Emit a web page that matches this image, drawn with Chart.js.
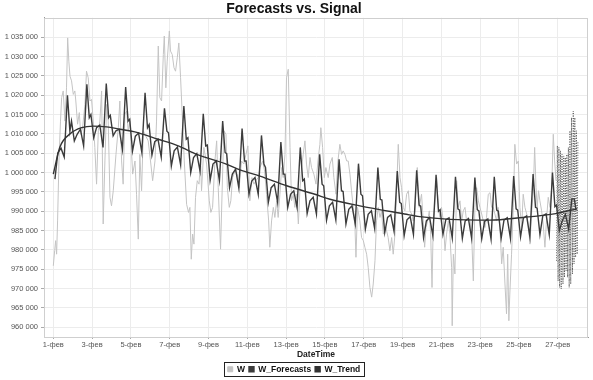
<!DOCTYPE html>
<html>
<head>
<meta charset="utf-8">
<script src="https://cdn.jsdelivr.net/npm/chart.js@4"></script>
<style>
  html, body { margin: 0; padding: 0; background: #fff; }
</style>
</head>
<body>
<canvas id="myChart" width="593" height="380"></canvas>
<script>
// x values are days since 1-фев 00:00
var tickDays = [0, 2, 4, 6, 8, 10, 12, 14, 16, 18, 20, 22, 24, 26];
var tickLabels = ["1-фев", "3-фев", "5-фев", "7-фев", "9-фев", "11-фев", "13-фев",
                  "15-фев", "17-фев", "19-фев", "21-фев", "23-фев", "25-фев", "27-фев"];
var yTicks = [960000, 965000, 970000, 975000, 980000, 985000, 990000, 995000,
              1000000, 1005000, 1010000, 1015000, 1020000, 1025000, 1030000, 1035000];

// W (signal)
var wDays = [0.00,0.07,0.12,0.17,0.22,0.29,0.37,0.43,0.51,0.60,0.68,0.74,0.80,0.86,0.94,1.03,1.11,1.16,1.25,1.34,
  1.41,1.51,1.63,1.71,1.80,1.89,1.97,2.06,2.14,2.23,2.32,2.40,2.49,2.57,2.66,2.75,2.83,2.92,3.00,3.09,
  3.23,3.35,3.43,3.52,3.60,3.69,3.78,3.86,3.95,4.03,
  4.09,4.21,4.29,4.38,4.46,4.55,4.64,4.72,4.89,5.01,5.12,5.24,5.32,5.41,5.49,5.58,5.67,5.72,5.80,5.87,
  5.98,6.04,6.13,6.22,6.30,6.39,6.47,6.56,6.66,6.75,6.87,6.97,7.04,7.11,7.18,7.25,7.33,7.42,7.51,7.59,
  7.64,7.76,7.90,8.04,8.12,8.21,8.33,8.42,8.50,8.62,8.73,
  8.79,8.90,8.97,9.07,9.15,9.24,9.36,9.48,9.58,9.70,9.82,9.93,10.03,10.13,10.24,10.34,10.44,10.56,10.65,10.79,
  10.89,10.99,11.10,11.16,11.25,11.34,11.42,11.51,11.59,11.68,11.77,11.85,11.94,12.02,12.11,12.20,12.28,12.37,12.45,12.54,
  12.63,12.71,12.80,12.88,12.97,13.05,13.14,13.23,13.31,
  13.43,13.54,13.64,13.74,13.79,13.88,13.97,14.05,14.17,14.26,14.38,14.46,14.57,14.67,14.77,14.86,14.94,15.03,15.12,15.20,
  15.29,15.37,15.46,15.55,15.60,15.68,15.80,15.89,15.98,16.06,16.15,16.23,16.32,16.41,16.49,16.58,16.66,16.75,16.84,16.92,
  17.01,17.14,17.26,17.35,17.44,17.52,17.61,17.69,17.78,17.87,17.95,18.04,
  18.12,18.21,18.30,18.38,18.47,18.55,18.64,18.76,18.86,18.98,19.07,19.14,19.21,19.29,19.38,19.45,19.52,19.58,19.67,19.76,
  19.84,19.93,20.01,20.10,20.19,20.27,20.36,20.44,20.53,20.56,20.62,20.70,20.79,20.87,20.96,21.05,21.13,21.22,21.30,21.39,
  21.48,21.56,21.65,21.73,21.82,21.91,21.99,22.08,22.16,22.25,22.33,22.42,22.51,22.59,22.68,
  22.76,22.85,22.93,23.02,23.11,23.19,23.28,23.36,23.42,23.48,23.53,23.62,23.71,23.79,23.88,23.97,24.05,24.14,24.22,24.31,
  24.40,24.48,24.57,24.65,24.74,24.81,24.88,24.94,25.01,25.08,25.17,25.25,25.34,25.43,25.51,25.60,25.69,25.77,25.84,25.91];
var wValues = [975900,979800,982400,978900,987500,1003000,1013300,1019400,1021100,1013300,1021900,1034800,1028800,1024900,1023700,1020200,1021100,1018500,1012500,1015500,
  1009900,1011600,1017600,1026200,1024500,1018500,1018900,1013300,1006500,997000,1010800,1013300,1021100,986700,1003000,1017600,1013300,993600,991400,995300,
  1004700,1011600,1018500,1003000,997000,1015100,1015900,1010800,1013300,1005600,
  999600,1003000,994400,982800,1004700,995300,1010800,1009900,1008200,1003000,997900,1003000,1013300,1032700,1019400,1018500,1030500,1035300,1021900,1028800,
  1036600,1031400,1030500,1027100,1026200,1029700,1033500,1024500,1013300,1003000,991800,989700,991000,977600,984100,981500,993600,997900,997000,1003000,
  995300,1006500,1002200,992700,989700,991000,1003000,1008200,996100,980200,1000400,
  1010800,1009900,996100,991000,992700,998700,1000400,999600,996100,1003000,1002200,1004700,1006900,992700,998700,997000,997900,998700,1001300,1003000,
  1000400,994400,987500,980700,987500,991000,988400,992700,988400,994400,1001300,998700,1004700,1024500,1026700,1006500,992700,994400,991000,994400,
  986700,995300,1001300,1004700,1008200,1002200,998700,1003900,1001300,
  999600,997000,1003000,1007300,1011600,1006500,998700,1001300,998700,1002200,1003900,998700,994400,1003000,1007300,1004700,1005600,1004700,1003000,1003000,
  999600,995300,991000,985800,978100,991000,987500,983200,982400,980700,978900,975500,970300,967800,971200,977200,987500,991000,988400,990100,
  984100,985800,983200,979800,983200,978900,984100,994400,1007300,998700,996100,991000,
  990100,994400,995300,990100,989300,987500,990100,1001300,991000,994400,987500,980700,985800,987500,990100,984100,970300,985800,992700,998700,
  991000,988400,991000,987500,979800,984100,987500,984100,975500,960400,978900,973800,997900,991000,992700,987500,990100,991000,987500,988400,
  987500,984100,972000,991000,996100,992700,991000,989300,987500,985800,988400,994400,994800,991000,991000,
  989300,987500,991000,985800,976400,980700,971200,963500,978900,961700,968600,978900,991000,1007300,1002200,1003000,991000,985800,994400,991000,
  989300,986700,981500,989300,995300,1006500,996100,991000,995300,992700,990100,986700,980700,988400,993600,991000,996100,1009900,1003000,997900];

// W_Forecasts: one row per day, values at these hours of the day
var fcHours = [2, 5.5, 9.5, 13.5, 17.5, 20.5, 22.5];
var fcValues = [
  [998300, 1005000, 1006300, 1004000, 1020000, 1010700, 1013300],
  [1008200, 1009900, 1011200, 1006900, 1022800, 1014200, 1015000],
  [1009000, 1011600, 1012300, 1006500, 1023000, 1014200, 1014800],
  [1009500, 1010800, 1011200, 1006000, 1022100, 1013300, 1013800],
  [1005600, 1009400, 1010200, 1005200, 1020600, 1011600, 1012400],
  [1004500, 1008000, 1008600, 1004000, 1016600, 1010700, 1010300],
  [1001700, 1005600, 1006600, 1002000, 1017200, 1008600, 1009000],
  [1000000, 1003900, 1004900, 1000400, 1015200, 1006900, 1007100],
  [998000, 1002200, 1003000, 998000, 1013300, 1005200, 1004900],
  [996100, 999600, 1000900, 996000, 1011400, 1003000, 1003000],
  [994400, 997800, 998700, 994400, 1009600, 1002200, 1001300],
  [992300, 996100, 997000, 992300, 1007900, 999600, 999600],
  [991000, 994400, 995300, 991000, 1006500, 997900, 998300],
  [989400, 992700, 993600, 989300, 1004700, 997000, 996600],
  [987700, 991400, 992300, 987800, 1003400, 995300, 995100],
  [986700, 990500, 991400, 986800, 1002300, 994400, 994000],
  [985400, 989200, 990100, 985600, 1001300, 993100, 992900],
  [984500, 988400, 989100, 984800, 1000400, 992300, 992000],
  [983700, 987800, 988600, 984000, 1000600, 991600, 991300],
  [983200, 987500, 988400, 983700, 999400, 990000, 990400],
  [984000, 987800, 988300, 983100, 998900, 990600, 990300],
  [983000, 987500, 988100, 983000, 998700, 990400, 990100],
  [982900, 987400, 988000, 982800, 998900, 990300, 990000],
  [983000, 987700, 988300, 983000, 999100, 990600, 990300],
  [983400, 988200, 988800, 983500, 999600, 991000, 990800],
  [984000, 988800, 989300, 984000, 1000000, 991200, 991600],
  [985000, 987500, 989200, 985400, 993200, 993200, 990500]
];

// forecast horizon bounds (dotted hatch)
var bandDays = [25.94, 26.02, 26.10, 26.18, 26.27, 26.35, 26.43, 26.51, 26.59, 26.67, 26.76, 26.84, 26.92, 27.00];
var bandUpper = [1006900, 1006500, 1005600, 1004700, 1004300, 1003900, 1004700, 1006500, 1010800, 1014200, 1015900, 1014200, 1010800, 1008200];
var bandLower = [977200, 972000, 970300, 969900, 971200, 972900, 974600, 972900, 970300, 971200, 973800, 976400, 978100, 978900];

// W_Trend
var trendDays = [0, 0.34, 0.86, 1.46, 2.06, 2.75, 3.43, 4.2, 5.4, 6.44, 7.39, 8.85, 9.62, 10.65, 12.03,
                 13.48, 14.26, 15.8, 18.1, 18.89, 20.44, 22.5, 24.2, 25.9, 26.7, 27.0];
var trendValues = [999600, 1006600, 1010000, 1011600, 1012000, 1011800, 1011200, 1010500, 1008600, 1006900, 1004700, 1002300, 1000700, 999100, 996600,
                   994400, 993100, 991400, 989300, 988600, 987900, 987700, 988400, 989400, 990300, 990600];

var xMin = -0.48, xMax = 27.56;
var yMin = 957500, yMax = 1040000;

function pts(xs, ys) {
    return xs.map(function (x, i) { return { x: x, y: ys[i] }; });
}

var fcPoints = [];
fcValues.forEach(function (row, d) {
    row.forEach(function (v, j) { fcPoints.push({ x: d + fcHours[j] / 24, y: v }); });
});

var bandPoints = [];
bandDays.forEach(function (d, i) {
    bandPoints.push({ x: d, y: bandLower[i] });
    bandPoints.push({ x: d + 0.04, y: bandUpper[i] });
});

function fmt(v) {
    return String(v).replace(/\B(?=(\d{3})+(?!\d))/g, ' ');
}

var frame = {
    id: 'frame',
    beforeDatasetsDraw: function (chart) {
        var a = chart.chartArea, ctx = chart.ctx;
        ctx.save();
        ctx.strokeStyle = '#cfcfcf';
        ctx.lineWidth = 1;
        ctx.strokeRect(Math.round(a.left) + 0.5, Math.round(a.top) + 0.5, Math.round(a.right - a.left) - 1, Math.round(a.bottom - a.top));
        ctx.restore();
    },
    afterDraw: function (chart) {
        var hb = chart.legend.legendHitBoxes;
        if (!hb || !hb.length) return;
        var l = hb[0].left, last = hb[hb.length - 1];
        var r = last.left + last.width, t = hb[0].top, b = hb[0].top + hb[0].height;
        var ctx = chart.ctx;
        ctx.save();
        ctx.strokeStyle = '#222';
        ctx.lineWidth = 1;
        ctx.strokeRect(Math.round(l - 4) + 0.5, Math.round(t - 3) + 0.5, Math.round(r - l + 7), Math.round(b - t + 5));
        ctx.restore();
    }
};

Chart.defaults.font.family = "'Liberation Sans', Arial, sans-serif";

var ctx = document.getElementById('myChart').getContext('2d');
var myChart = new Chart(ctx, {
    type: 'line',
    data: {
        datasets: [{
            label: 'W',
            data: pts(wDays, wValues),
            borderColor: '#c4c4c4',
            backgroundColor: '#c4c4c4',
            borderWidth: 1,
            order: 3
        }, {
            label: 'W_Forecasts',
            data: fcPoints,
            borderColor: '#3c3c3c',
            backgroundColor: '#3c3c3c',
            borderWidth: 1.4,
            order: 1
        }, {
            label: 'W_Trend',
            data: pts(trendDays, trendValues),
            borderColor: '#333',
            backgroundColor: '#333',
            borderWidth: 1.4,
            cubicInterpolationMode: 'monotone',
            order: 0
        }, {
            label: 'band',
            data: bandPoints,
            borderColor: '#555',
            borderWidth: 1,
            borderDash: [1, 1.5],
            order: 2
        }]
    },
    plugins: [frame],
    options: {
        responsive: false,
        animation: false,
        devicePixelRatio: 1,
        elements: { point: { radius: 0 }, line: { tension: 0 } },
        layout: { padding: { left: 0, right: 5, top: 0, bottom: 2 } },
        plugins: {
            title: {
                display: true,
                text: 'Forecasts vs. Signal',
                color: '#111',
                font: { size: 14, weight: 'bold' },
                padding: { top: 1, bottom: 0 }
            },
            legend: {
                position: 'bottom',
                maxHeight: 17,
                labels: {
                    boxWidth: 5,
                    boxHeight: 5,
                    padding: 4,
                    color: '#111',
                    font: { size: 8.5, weight: 'bold' },
                    filter: function (item) { return item.text !== 'band'; },
                    sort: function (a, b) { return a.datasetIndex - b.datasetIndex; }
                }
            },
            tooltip: { enabled: false }
        },
        scales: {
            x: {
                type: 'linear',
                min: xMin,
                max: xMax,
                afterBuildTicks: function (s) { s.ticks = tickDays.map(function (v) { return { value: v }; }); },
                afterFit: function (s) { s.height = 24; },
                ticks: {
                    autoSkip: false,
                    maxRotation: 0,
                    padding: 1,
                    color: '#555',
                    font: { size: 7.5 },
                    callback: function (v) { return tickLabels[tickDays.indexOf(v)]; }
                },
                grid: { color: '#ececec', tickLength: 2, tickColor: '#aaa' },
                border: { color: '#999' },
                title: {
                    display: true,
                    text: 'DateTime',
                    color: '#222',
                    font: { size: 8.5, weight: 'bold' },
                    padding: { top: 1, bottom: 1 }
                }
            },
            y: {
                min: yMin,
                max: yMax,
                afterBuildTicks: function (s) { s.ticks = yTicks.map(function (v) { return { value: v }; }); },
                afterFit: function (s) { s.width = 44; },
                ticks: {
                    padding: 3,
                    color: '#555',
                    font: { size: 7.5 },
                    callback: function (v) { return fmt(v); }
                },
                grid: { color: '#ececec', tickLength: 3, tickColor: '#aaa' },
                border: { color: '#999' }
            }
        }
    }
});
</script>
</body>
</html>
